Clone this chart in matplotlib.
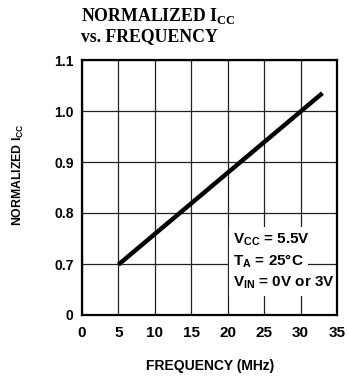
import numpy as np
import matplotlib
matplotlib.use("Agg")
import matplotlib.pyplot as plt

# data
freq = [5, 33]
icc = [0.692, 1.035]
xticks = [0, 5, 10, 15, 20, 25, 30, 35]
yticks = [0, 0.7, 0.8, 0.9, 1.0, 1.1]
ytick_labels = ["0", "0.7", "0.8", "0.9", "1.0", "1.1"]
notes = ["V$_{\\mathrm{CC}}$ = 5.5V", "T$_{\\mathrm{A}}$ = 25°C", "V$_{\\mathrm{IN}}$ = 0V or 3V"]

plt.rcParams['mathtext.fontset'] = 'custom'
plt.rcParams['mathtext.rm'] = 'Liberation Sans:bold'
plt.rcParams['mathtext.bf'] = 'Liberation Serif:bold'

def fwd(y):
    y = np.asarray(y, dtype=float)
    return np.where(y >= 0.7, (y - 0.6) * 10, y / 0.7)

def inv(p):
    p = np.asarray(p, dtype=float)
    return np.where(p >= 1, p / 10 + 0.6, p * 0.7)

fig = plt.figure(figsize=(3.49, 3.77), dpi=100)
ax = fig.add_axes([82/349, 1 - 315/377, 255/349, 255/377])
ax.set_yscale('function', functions=(fwd, inv))
ax.set_xlim(0, 35)
ax.set_ylim(0, 1.1)
ax.set_xticks(xticks)
ax.set_yticks(yticks)
ax.set_yticklabels(ytick_labels)
ax.minorticks_off()
ax.tick_params(axis='x', length=0, labelsize=11, pad=8)
ax.tick_params(axis='y', length=0, labelsize=10, pad=6)
for lab in ax.get_xticklabels() + ax.get_yticklabels():
    lab.set_family('Liberation Sans')
    lab.set_fontweight('bold')
ax.grid(True, color='#222222', linewidth=0.9)
ax.set_axisbelow(True)
for s in ax.spines.values():
    s.set_linewidth(1.6)
    s.set_color('black')
    s.set_zorder(6)

ax.plot(freq, icc, color='black', linewidth=3.2, solid_capstyle='butt', zorder=3)

ys = [240, 261, 283]
for txt, yp in zip(notes, ys):
    ax.text(233/349, 1 - yp/377, txt, transform=fig.transFigure,
            family='Liberation Sans', fontweight='bold',
            fontsize=11, va='center', ha='left',
            bbox=dict(facecolor='white', edgecolor='none', pad=3.2), zorder=4)

fig.text(81/349, 1 - 16/377, "NORMALIZED I$_{\\mathbf{CC}}$", family='Liberation Serif',
         fontweight='bold', fontsize=12.8, va='center', ha='left')
fig.text(81/349, 1 - 37/377, "vs. FREQUENCY", family='Liberation Serif',
         fontweight='bold', fontsize=12.8, va='center', ha='left')

fig.text(210/349, 1 - 366/377, "FREQUENCY (MHz)", family='Liberation Sans',
         fontweight='bold', fontsize=10, va='center', ha='center')
fig.text(18/349, 1 - 175/377, "NORMALIZED I$_{\\mathrm{CC}}$", family='Liberation Sans',
         fontweight='bold', fontsize=8.8, va='center', ha='center', rotation=90)

fig.savefig("out.png", dpi=100, facecolor='white')
